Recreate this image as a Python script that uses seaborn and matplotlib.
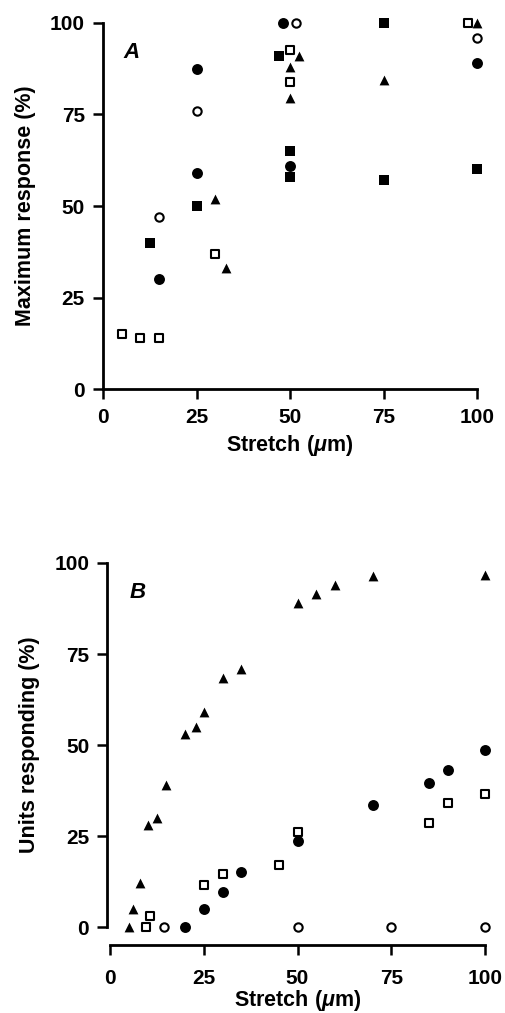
import matplotlib
matplotlib.use("Agg")
import matplotlib.pyplot as plt
import pandas as pd
import seaborn as sns

# ---- Panel A: maximum response vs stretch ----
a_fcirc_x = [15, 25, 25, 48, 50, 100]
a_fcirc_y = [30, 87.5, 59, 100, 61, 89]
a_ocirc_x = [15, 25, 51.5, 100]
a_ocirc_y = [47, 76, 100, 96]
a_fsq_x = [12.5, 25, 47, 50, 50, 75, 75, 100]
a_fsq_y = [40, 50, 91, 65, 58, 100, 57, 60]
a_osq_x = [5, 10, 15, 30, 50, 50, 97.5]
a_osq_y = [15, 14, 14, 37, 92.5, 84, 100]
a_ftri_x = [30, 33, 50, 50, 52.5, 75, 100]
a_ftri_y = [52, 33, 88, 79.5, 91, 84.5, 100]

# ---- Panel B: units responding vs stretch ----
b_ftri_x = [5, 6, 8, 10, 12.5, 15, 20, 23, 25, 30, 35, 50, 55, 60, 70, 100]
b_ftri_y = [0, 5, 12, 28, 30, 39, 53, 55, 59, 68.5, 71, 89, 91.5, 94, 96.5, 96.7]
b_fcirc_x = [20, 25, 30, 35, 50, 70, 85, 90, 100]
b_fcirc_y = [0, 5, 9.5, 15, 23.5, 33.5, 39.5, 43, 48.5]
b_osq_x = [9.5, 10.7, 25, 30, 45, 50, 85, 90, 100]
b_osq_y = [0, 3, 11.5, 14.5, 17, 26, 28.5, 34, 36.5]
b_ocirc_x = [14.5, 50, 75, 100]
b_ocirc_y = [0, 0, 0, 0]

ticks = [0, 25, 50, 75, 100]

sns.set_theme(style="ticks")
plt.rcParams["font.family"] = ["Liberation Sans", "DejaVu Sans"]
plt.rcParams["font.weight"] = "bold"
plt.rcParams["axes.labelweight"] = "bold"
plt.rcParams["mathtext.fontset"] = "custom"
plt.rcParams["mathtext.rm"] = "Liberation Sans:bold"
plt.rcParams["mathtext.it"] = "Liberation Sans:italic:bold"
plt.rcParams["mathtext.bf"] = "Liberation Sans:bold"

W, H = 505, 1013
fig = plt.figure(figsize=(W / 100, H / 100), dpi=100)
fig.patch.set_facecolor("white")

ax_a = fig.add_axes([103 / W, 1 - 389 / H, 374 / W, 366 / H])
ax_b = fig.add_axes([110 / W, 1 - 927 / H, 375 / W, 364 / H])

# marker styles: (marker, filled, size)
styles = {
    "fcirc": ("o", True, 62),
    "ocirc": ("o", False, 36),
    "fsq": ("s", True, 44),
    "osq": ("s", False, 30),
    "ftri": ("^", True, 50),
}


def draw(ax, kind, xs, ys):
    marker, filled, size = styles[kind]
    df = pd.DataFrame({"stretch": xs, "value": ys})
    sns.scatterplot(
        data=df, x="stretch", y="value", ax=ax, marker=marker, s=size,
        color="black" if filled else "white", edgecolor="black",
        linewidth=0 if filled else 1.5, clip_on=False, zorder=3,
    )


draw(ax_a, "fcirc", a_fcirc_x, a_fcirc_y)
draw(ax_a, "ocirc", a_ocirc_x, a_ocirc_y)
draw(ax_a, "fsq", a_fsq_x, a_fsq_y)
draw(ax_a, "osq", a_osq_x, a_osq_y)
draw(ax_a, "ftri", a_ftri_x, a_ftri_y)

draw(ax_b, "ftri", b_ftri_x, b_ftri_y)
draw(ax_b, "fcirc", b_fcirc_x, b_fcirc_y)
draw(ax_b, "osq", b_osq_x, b_osq_y)
draw(ax_b, "ocirc", b_ocirc_x, b_ocirc_y)

# panel B: detached x axis
sns.despine(ax=ax_a)
sns.despine(ax=ax_b)
ax_b.spines["bottom"].set_position(("outward", 13))
ax_b.spines["left"].set_position(("outward", 2))

for ax, ylab, letter in [(ax_a, "Maximum response (%)", "A"),
                         (ax_b, "Units responding (%)", "B")]:
    ax.set_xlim(0, 100)
    ax.set_ylim(0, 100)
    ax.set_xticks(ticks)
    ax.set_yticks(ticks)
    ax.set_xticklabels([str(t) for t in ticks])
    ax.set_yticklabels([str(t) for t in ticks])
    ax.set_facecolor("white")
    for sp in ("left", "bottom"):
        ax.spines[sp].set_linewidth(2.0)
        ax.spines[sp].set_color("black")
    ax.tick_params(axis="both", direction="out", length=7, width=1.8,
                   color="black", labelsize=15, labelcolor="black")
    ax.tick_params(axis="y", pad=6)
    ax.set_ylabel(ylab, fontsize=15.5, color="black", labelpad=10)
    ax.text(7.5, 92, letter, fontsize=16, fontstyle="italic",
            color="black", ha="center", va="center")

ax_a.tick_params(axis="x", pad=7)
ax_b.tick_params(axis="x", pad=10)
ax_a.set_xlabel(r"Stretch ($\mathit{\mu}$m)", fontsize=15.5, color="black",
                labelpad=4)
ax_b.set_xlabel(r"Stretch ($\mathit{\mu}$m)", fontsize=15.5, color="black",
                labelpad=0)

fig.savefig("out.png", dpi=100, facecolor="white")
